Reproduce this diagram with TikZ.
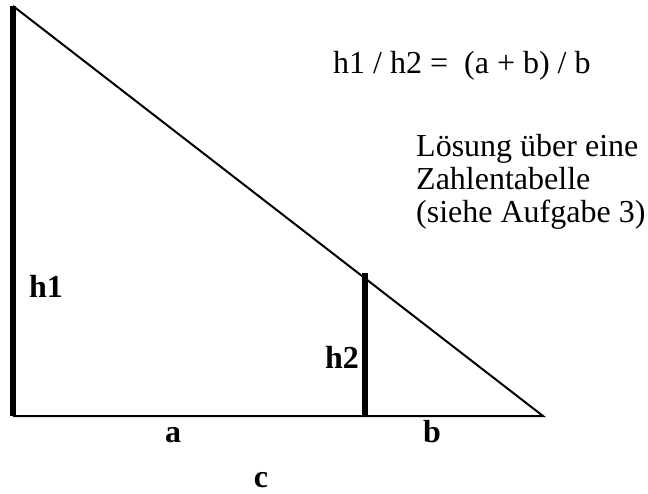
\documentclass[tikz,border=0pt]{standalone}
\usepackage{fontspec}
\setmainfont{Liberation Serif}
\usetikzlibrary{positioning}

\begin{document}
\begin{tikzpicture}[x=1pt, y=-1pt,
  thinline/.style={line width=2pt, line join=miter},
  thickbar/.style={line width=5.5pt},
  lbl/.style={font=\fontsize{32}{34}\selectfont\bfseries, inner sep=0pt, anchor=base},
  txt/.style={font=\fontsize{32}{34}\selectfont, inner sep=0pt, anchor=base west}
]
  \useasboundingbox (0,0) rectangle (648,493);

  % corners of the big triangle and the small height
  \coordinate (top) at (13,6);
  \coordinate (left) at (13,416);
  \coordinate (right) at (543,416);
  \coordinate (foot) at (365,416);
  \coordinate (peak) at (365,273);

  \draw[thinline] (top) -- (right) -- (left);
  \draw[thickbar] (left) -- (top);
  \draw[thickbar] (foot) -- (peak);

  \node[lbl] (h1) at (46,297) {h1};
  \node[lbl] (h2) at (342,368) {h2};
  \node[lbl] (a) at (173,442) {a};
  \node[lbl] (b) at (432,442) {b};
  \node[lbl] (c) at (261,487) {c};

  \node[txt] (ratio) at (333,73) {h1 / h2 =\ \ (a + b) / b};
  \node[txt] (sol1) at (416,156) {Lösung über eine};
  \node[txt] (sol2) at (416,189) {Zahlentabelle};
  \node[txt] (sol3) at (416,222) {(siehe Aufgabe 3)};
\end{tikzpicture}
\end{document}
